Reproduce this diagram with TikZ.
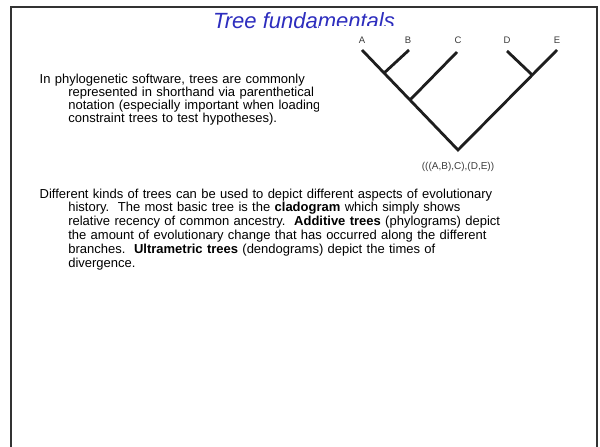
\documentclass[tikz,border=0pt]{standalone}
\usepackage{fontspec}
\setmainfont{Liberation Sans}
\usetikzlibrary{calc}
\definecolor{titleblue}{RGB}{45,45,190}
\definecolor{branch}{RGB}{30,30,30}
\definecolor{labelgray}{RGB}{60,60,60}
\newcommand{\hangline}{\newline\hspace*{28.6pt}}
\tikzset{
  frame/.style={line width=2pt, draw=black!80},
  heading/.style={font=\fontsize{22}{24}\selectfont\itshape, text=titleblue, inner sep=0pt},
  bodytext/.style={inner sep=0pt, anchor=north west, text width=520pt, align=left},
  taxon/.style={font=\fontsize{9.5}{10}\selectfont, text=labelgray, inner sep=0pt},
  newick/.style={font=\fontsize{10}{11}\selectfont, text=labelgray, inner sep=0pt},
  branchline/.style={line width=2.8pt, draw=branch, line join=miter},
}
\begin{document}
\begin{tikzpicture}[x=1pt, y=-1pt]
  \useasboundingbox (0,0) rectangle (600,447);
  \fill[white] (0,0) rectangle (600,447);

  % slide frame (open at the bottom)
  \draw[frame] (11,447) -- (11,7) -- (597,7) -- (597,447);

  % title
  \node[heading, anchor=base] (title) at (304,28) {Tree fundamentals};

  % first paragraph
  \node[bodytext, font=\fontsize{13}{13}\selectfont] (para1) at (39.5,74) {%
    In phylogenetic software, trees are commonly\hangline
    represented in shorthand via parenthetical\hangline
    notation (especially important when loading\hangline
    constraint trees to test hypotheses).};

  % second paragraph
  \node[bodytext, font=\fontsize{13}{13.8}\selectfont] (para2) at (39.5,188.5) {%
    Different kinds of trees can be used to depict different aspects of evolutionary\hangline
    history.\ \ The most basic tree is the \textbf{cladogram} which simply shows\hangline
    relative recency of common ancestry.\ \ \textbf{Additive trees} (phylograms) depict\hangline
    the amount of evolutionary change that has occurred along the different\hangline
    branches.\ \ \textbf{Ultrametric trees} (dendograms) depict the times of\hangline
    divergence.};

  % white panel holding the cladogram
  \fill[white] (319,26) rectangle (576,180);

  % tips, root and internal junctions
  \coordinate (root) at (458,150);
  \coordinate (tA) at (362,50);
  \coordinate (tB) at (409,50);
  \coordinate (tC) at (457,52);
  \coordinate (tD) at (507,51);
  \coordinate (tE) at (557,50);
  \coordinate (jAB) at ($(root)!0.77!(tA)$);
  \coordinate (jABC) at ($(root)!0.5!(tA)$);
  \coordinate (jDE) at ($(root)!0.75!(tE)$);

  % branches
  \draw[branchline] (tA) -- (root) -- (tE);
  \draw[branchline] (jAB) -- (tB);
  \draw[branchline] (jABC) -- (tC);
  \draw[branchline] (jDE) -- (tD);

  % taxon names
  \node[taxon] (lA) at (362,40) {A};
  \node[taxon] (lB) at (408,40) {B};
  \node[taxon] (lC) at (458,40) {C};
  \node[taxon] (lD) at (507,40) {D};
  \node[taxon] (lE) at (557,40) {E};

  % parenthetical notation
  \node[newick] (nwk) at (458,167) {(((A,B),C),(D,E))};
\end{tikzpicture}
\end{document}
